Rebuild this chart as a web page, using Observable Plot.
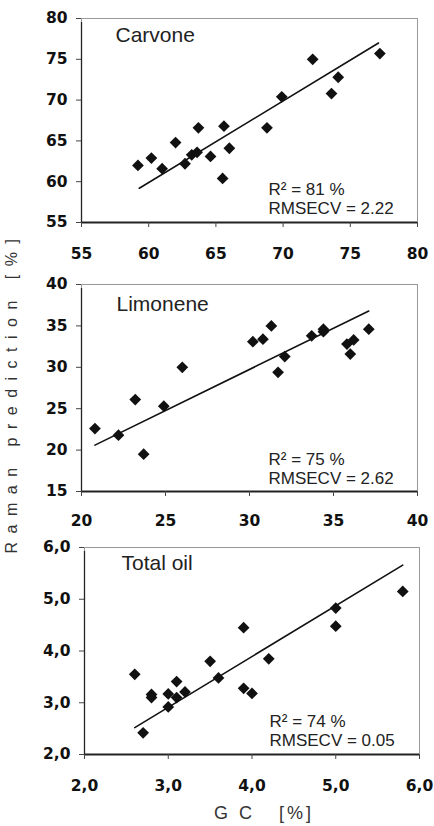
<!DOCTYPE html>
<html>
<head>
<meta charset="utf-8">
<script src="https://cdn.jsdelivr.net/npm/d3@7"></script>
<script src="https://cdn.jsdelivr.net/npm/@observablehq/plot@0.6"></script>
<style>
  html, body { margin: 0; padding: 0; background: #fff; }
  #wrap { position: relative; width: 434px; height: 826px; overflow: hidden; }
  .panel { position: absolute; left: 0; }
  #ylab { position: absolute; width: 400px; left: -188px; top: 382px; height: 20px; line-height: 20px;
          text-align: center; transform: rotate(-90deg); transform-origin: 200px 10px;
          font-family: "Liberation Sans", Arial, sans-serif; font-size: 16px; letter-spacing: 8.5px; color: #333; white-space: pre; }
  #xlab { position: absolute; left: 0; width: 434px; top: 803px; text-align: center; padding-left: 94px; box-sizing: border-box;
          font-family: "Liberation Sans", Arial, sans-serif; font-size: 18px; letter-spacing: 3px; color: #333; white-space: pre; }
</style>
</head>
<body>
<div id="wrap">
  <div id="p1" class="panel" style="top:0px"></div>
  <div id="p2" class="panel" style="top:265px"></div>
  <div id="p3" class="panel" style="top:530px"></div>
  <div id="ylab">Raman prediction [%]</div>
  <div id="xlab">G C   [%]</div>
</div>
<script>
// ---- Carvone ----
const carvoneGC    = [59.2, 60.2, 61.0, 62.0, 62.7, 63.2, 63.6, 63.7, 64.6, 65.5, 65.6, 66.0, 68.8, 69.9, 72.2, 73.6, 74.1, 77.2];
const carvoneRaman = [62.0, 62.9, 61.6, 64.8, 62.2, 63.3, 63.6, 66.6, 63.1, 60.4, 66.8, 64.1, 66.6, 70.4, 75.0, 70.8, 72.8, 75.7];
const carvoneFitX  = [59.3, 77.1];
const carvoneFitY  = [59.2, 77.0];
const carvoneTicks = [55, 60, 65, 70, 75, 80];
const carvoneStats = "R² = 81 %\nRMSECV = 2.22";

// ---- Limonene ----
const limoneneGC    = [20.8, 22.2, 23.2, 23.7, 24.9, 26.0, 30.2, 30.8, 31.3, 31.7, 32.1, 33.7, 34.4, 34.4, 35.8, 36.0, 36.2, 37.1];
const limoneneRaman = [22.6, 21.8, 26.1, 19.5, 25.3, 30.0, 33.1, 33.4, 35.0, 29.4, 31.3, 33.8, 34.6, 34.3, 32.8, 31.6, 33.3, 34.6];
const limoneneFitX  = [20.8, 37.1];
const limoneneFitY  = [20.6, 36.8];
const limoneneTicks = [15, 20, 25, 30, 35, 40];
const limoneneXTicks = [20, 25, 30, 35, 40];
const limoneneStats = "R² = 75 %\nRMSECV = 2.62";

// ---- Total oil ----
const oilGC    = [2.6, 2.7, 2.8, 2.8, 3.0, 3.0, 3.1, 3.1, 3.2, 3.5, 3.6, 3.9, 3.9, 4.0, 4.2, 5.0, 5.0, 5.8];
const oilRaman = [3.55, 2.42, 3.16, 3.10, 3.17, 2.92, 3.41, 3.10, 3.21, 3.80, 3.48, 4.45, 3.28, 3.18, 3.85, 4.83, 4.48, 5.15];
const oilFitX  = [2.6, 5.8];
const oilFitY  = [2.52, 5.66];
const oilTicks = [2, 3, 4, 5, 6];
const oilStats = "R² = 74 %\nRMSECV = 0.05";

const panelNames = ["Carvone", "Limonene", "Total oil"];

const tickFont = {fontFamily: "DejaVu Sans", fontSize: 15.5, fontWeight: "bold"};
const comma = d => d.toFixed(1).replace(".", ",");

function panel(o) {
  const pts = o.gx.map((g, i) => ({gc: g, raman: o.ry[i]}));
  const fit = o.fx.map((f, i) => ({gc: f, raman: o.fy[i]}));
  return Plot.plot({
    width: 434,
    height: o.height,
    marginLeft: o.ml, marginRight: o.mr, marginTop: o.mt, marginBottom: o.mb,
    x: {domain: o.xd, label: null},
    y: {domain: o.yd, label: null},
    style: {background: "transparent", color: "#111", overflow: "visible"},
    marks: [
      Plot.frame({stroke: "#999", strokeWidth: 1}),
      Plot.ruleX([o.xd[0]], {stroke: "#222", strokeWidth: 1.3, y1: o.yd[0], y2: o.yd[1], insetBottom: -4}),
      Plot.ruleY([o.yd[0]], {stroke: "#222", strokeWidth: 2}),
      Plot.axisX({ticks: o.xt, tickFormat: o.fmt, tickSize: 5, tickPadding: o.xpad, ...tickFont, stroke: "#444"}),
      Plot.axisY({ticks: o.yt, tickFormat: o.fmt, tickSize: 5, tickPadding: 9, ...tickFont, stroke: "#444"}),
      Plot.line(fit, {x: "gc", y: "raman", stroke: "#111", strokeWidth: 1.6}),
      Plot.dot(pts, {x: "gc", y: "raman", symbol: "diamond2", r: 5.3, fill: "#111", stroke: "none"}),
      Plot.text([o.name], {frameAnchor: "top-left", dx: o.tdx, dy: o.tdy, textAnchor: "start", lineAnchor: "bottom",
                           fontFamily: "Liberation Sans", fontSize: 21, fill: "#222"}),
      Plot.text([o.stats], {frameAnchor: "bottom-left", dx: o.sdx, dy: o.sdy, textAnchor: "start", lineAnchor: "bottom",
                            lineHeight: 1.07, fontFamily: "Liberation Sans", fontSize: 17, fill: "#222"})
    ]
  });
}

document.getElementById("p1").appendChild(panel({
  height: 265, ml: 81, mr: 17, mt: 18, mb: 43, xd: [55, 80], yd: [55, 80],
  xt: carvoneTicks, yt: carvoneTicks, fmt: d3.format("d"), xpad: 20,
  gx: carvoneGC, ry: carvoneRaman, fx: carvoneFitX, fy: carvoneFitY,
  name: panelNames[0], tdx: 34, tdy: 23, stats: carvoneStats, sdx: 187, sdy: -9
}));
document.getElementById("p2").appendChild(panel({
  height: 265, ml: 81, mr: 17, mt: 19, mb: 39, xd: [20, 40], yd: [15, 40],
  xt: limoneneXTicks, yt: limoneneTicks, fmt: d3.format("d"), xpad: 18,
  gx: limoneneGC, ry: limoneneRaman, fx: limoneneFitX, fy: limoneneFitY,
  name: panelNames[1], tdx: 35, tdy: 26, stats: limoneneStats, sdx: 187, sdy: -8
}));
document.getElementById("p3").appendChild(panel({
  height: 296, ml: 84, mr: 15, mt: 17, mb: 72, xd: [2, 6], yd: [2, 6],
  xt: oilTicks, yt: oilTicks, fmt: comma, xpad: 20,
  gx: oilGC, ry: oilRaman, fx: oilFitX, fy: oilFitY,
  name: panelNames[2], tdx: 37, tdy: 22, stats: oilStats, sdx: 185, sdy: -9
}));
</script>
</body>
</html>
